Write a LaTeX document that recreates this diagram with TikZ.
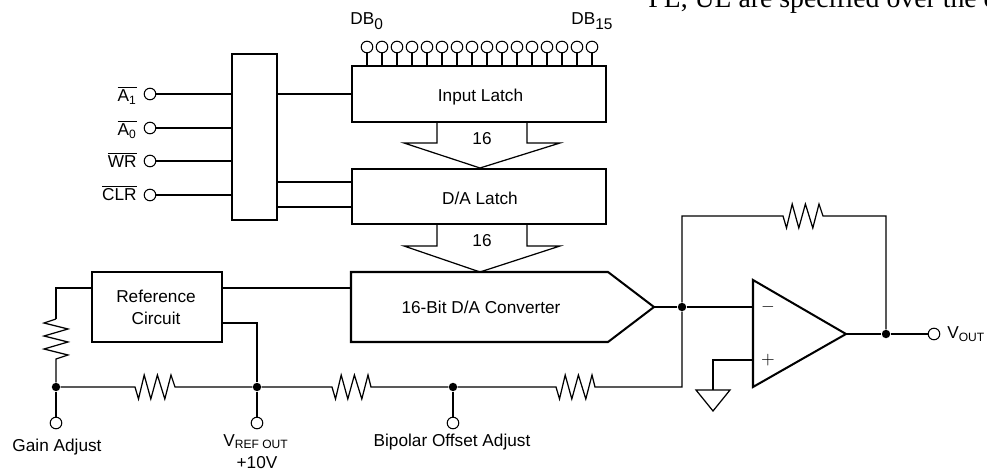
\documentclass[tikz,border=0pt]{standalone}
\usepackage{amsmath}
\usepackage{fontspec}
\setmainfont{Liberation Sans}
\newfontfamily\headfont{Liberation Serif}
\usetikzlibrary{calc}

\tikzset{
    block/.style={draw, line width=1.15pt, inner sep=0pt, align=center},
    wire/.style={line width=0.7pt},
    pinhole/.style={circle, draw, line width=0.6pt, fill=white, minimum size=6.6pt, inner sep=0pt},
    junction/.style={circle, fill=black, minimum size=4.8pt, inner sep=0pt},
    lbl/.style={inner sep=0pt, font=\fontsize{9.8}{12.5}\selectfont},
    reshoriz/.style={to path={-- ++(3.5,12) -- ++(5.7,-24) -- ++(6.6,24) -- ++(6.6,-24) -- ++(7.4,24) -- ++(6.2,-24) -- (\tikztotarget)}},
    resvert/.style={to path={-- ++(-12,4) -- ++(24,6) -- ++(-24,7) -- ++(24,6) -- ++(-24,7) -- ++(24,6) -- (\tikztotarget)}}
}
\newcommand{\bigsub}[1]{\raisebox{-2.6pt}{\fontsize{8.8}{10}\selectfont #1}}

\begin{document}
\begin{tikzpicture}[x=0.02cm, y=-0.02cm]
    \useasboundingbox (0,0) rectangle (987,469);
    \clip (0,0) rectangle (987,469);

    % Ligne de texte coupee en haut
    \node[anchor=base west, inner sep=0pt, font=\headfont\fontsize{15.8}{18}\selectfont] (headline) at (648,8) {PL, UL are specified over the o};

    % Blocs
    \node[block, minimum width=25.5pt, minimum height=94.5pt] (logic) at (254.5,137) {};
    \node[block, lbl, draw, line width=1.15pt, minimum width=145.1pt, minimum height=31.7pt] (inlatch) at (479,94) {};
    \node[lbl, anchor=base] (inlabel) at (480.5,102) {Input Latch};
    \node[block, lbl, draw, line width=1.15pt, minimum width=145.1pt, minimum height=31.2pt] (dalatch) at (479,196.5) {};
    \node[lbl, anchor=base] (dalabel) at (480,205) {D/A Latch};
    \node[block, lbl, draw, line width=1.15pt, minimum width=73.7pt, minimum height=39.7pt] (refcirc) at (157,307) {};
    \node[lbl, anchor=base] (reflabela) at (156,303) {Reference};
    \node[lbl, anchor=base] (reflabelb) at (156,325) {Circuit};

    % Convertisseur
    \coordinate (conva) at (351,272);
    \coordinate (convb) at (608,272);
    \coordinate (convtip) at (654,307);
    \coordinate (convc) at (608,342);
    \coordinate (convd) at (351,342);
    \draw[line width=1.15pt, line join=miter] (conva) -- (convb) -- (convtip) -- (convc) -- (convd) -- cycle;
    \node[lbl, anchor=base] (convlabel) at (481,314) {16-Bit D/A Converter};

    % Fleches de 16 bits
    \draw[wire, line join=miter] (437,122) -- (437,143) -- (404,143) -- (480,168) -- (560,143) -- (527,143) -- (527,122);
    \node[lbl] (bus1) at (482,139) {16};
    \draw[wire, line join=miter] (437,224) -- (437,246) -- (404,246) -- (480,272) -- (560,246) -- (527,246) -- (527,224);
    \node[lbl] (bus2) at (482,241) {16};

    % Broches DB
    \node[pinhole] (db0) at (367,47) {};
    \node[pinhole] (db1) at (382,47) {};
    \node[pinhole] (db2) at (397,47) {};
    \node[pinhole] (db3) at (412,47) {};
    \node[pinhole] (db4) at (427,47) {};
    \node[pinhole] (db5) at (442,47) {};
    \node[pinhole] (db6) at (457,47) {};
    \node[pinhole] (db7) at (472,47) {};
    \node[pinhole] (db8) at (487,47) {};
    \node[pinhole] (db9) at (502,47) {};
    \node[pinhole] (db10) at (517,47) {};
    \node[pinhole] (db11) at (532,47) {};
    \node[pinhole] (db12) at (547,47) {};
    \node[pinhole] (db13) at (562,47) {};
    \node[pinhole] (db14) at (577,47) {};
    \node[pinhole] (db15) at (592,47) {};
    \foreach \pin in {db0,db1,db2,db3,db4,db5,db6,db7,db8,db9,db10,db11,db12,db13,db14,db15}
        \draw[wire] (\pin) -- (\pin |- inlatch.north);
    \node[lbl, anchor=base west] (dbzero) at (350,25) {DB\bigsub{0}};
    \node[lbl, anchor=base west] (dblast) at (571,25) {DB\bigsub{15}};

    % Entrees de commande
    \node[pinhole] (pina) at (150,94) {};
    \node[pinhole] (pinb) at (150,128) {};
    \node[pinhole] (pinw) at (150,161) {};
    \node[pinhole] (pinc) at (150,195) {};
    \draw[wire] (pina) -- (pina -| logic.west);
    \draw[wire] (pinb) -- (pinb -| logic.west);
    \draw[wire] (pinw) -- (pinw -| logic.west);
    \draw[wire] (pinc) -- (pinc -| logic.west);
    \node[lbl, anchor=base east] (labela) at (137,102) {$\overline{\text{A}_{\text{1}}}$};
    \node[lbl, anchor=base east] (labelb) at (137,136) {$\overline{\text{A}_{\text{0}}}$};
    \node[lbl, anchor=base east] (labelw) at (137,168) {$\overline{\text{WR}}$};
    \node[lbl, anchor=base east] (labelc) at (137,201) {$\overline{\text{CLR}}$};

    % Liaisons vers les verrous
    \draw[wire] (logic.east |- pina) -- (inlatch.west |- pina);
    \coordinate (linka) at (276,182);
    \coordinate (linkb) at (276,207);
    \draw[wire] (linka) -- (linka -| dalatch.west);
    \draw[wire] (linkb) -- (linkb -| dalatch.west);

    % Circuit de reference
    \coordinate (refout) at (222,288);
    \coordinate (refoutb) at (222,323);
    \coordinate (refin) at (92,288);
    \node[junction] (nodegain) at (56,387) {};
    \node[junction] (noderef) at (257,387) {};
    \node[junction] (nodebip) at (453,387) {};
    \coordinate (resvtop) at (56,319);
    \draw[wire] (refin) -- (nodegain |- refin) -- (resvtop);
    \draw[wire] (resvtop) to[resvert] (56,359) -- (nodegain);
    \draw[wire] (refout) -- (refout -| conva);
    \draw[wire] (refoutb) -- (noderef |- refoutb) -- (noderef);

    % Chaine de resistances
    \node[junction] (nodesum) at (682,307) {};
    \draw[wire] (nodegain) -- (135,387) to[reshoriz] (175,387) -- (noderef);
    \draw[wire] (noderef) -- (332,387) to[reshoriz] (371,387) -- (nodebip);
    \draw[wire] (nodebip) -- (556,387) to[reshoriz] (595,387) -- (nodesum |- nodebip) -- (nodesum);

    % Sorties du bas
    \node[pinhole] (pingain) at (56,423) {};
    \node[pinhole] (pinref) at (257,423) {};
    \node[pinhole] (pinbip) at (453,423) {};
    \draw[wire] (nodegain) -- (pingain);
    \draw[wire] (noderef) -- (pinref);
    \draw[wire] (nodebip) -- (pinbip);
    \node[lbl, anchor=base] (gainlabel) at (57,451) {Gain Adjust};
    \node[lbl, anchor=base] (reflabel) at (256,446) {V$_{\text{REF OUT}}$};
    \node[lbl, anchor=base] (tenlabel) at (257,468) {+10V};
    \node[lbl, anchor=base] (biplabel) at (452,446) {Bipolar Offset Adjust};

    % Amplificateur
    \coordinate (ampa) at (753,280);
    \coordinate (ampb) at (753,387);
    \coordinate (amptip) at (846,334);
    \draw[line width=1.15pt, line join=miter] (ampa) -- (amptip) -- (ampb) -- cycle;
    \node[lbl] (minuslabel) at (768,307) {$-$};
    \node[lbl] (pluslabel) at (768,360) {$+$};
    \draw[wire] (convtip) -- (nodesum) -- (753,307);

    % Masse
    \coordinate (plusin) at (753,360);
    \coordinate (gnd) at (713,390);
    \draw[wire] (plusin) -- (gnd |- plusin) -- (gnd);
    \draw[wire, line join=miter] (696,390) -- (730,390) -- (713,411) -- cycle;

    % Contre-reaction et sortie
    \node[junction] (nodeout) at (886,334) {};
    \node[pinhole] (pinout) at (934,334) {};
    \draw[wire] (amptip) -- (nodeout) -- (pinout);
    \draw[wire] (nodesum) -- (682,216) -- (783,216) to[reshoriz] (823,216) -- (886,216) -- (nodeout);
    \node[lbl, anchor=base west] (outlabel) at (947,339) {V$_{\text{OUT}}$};
\end{tikzpicture}
\end{document}
